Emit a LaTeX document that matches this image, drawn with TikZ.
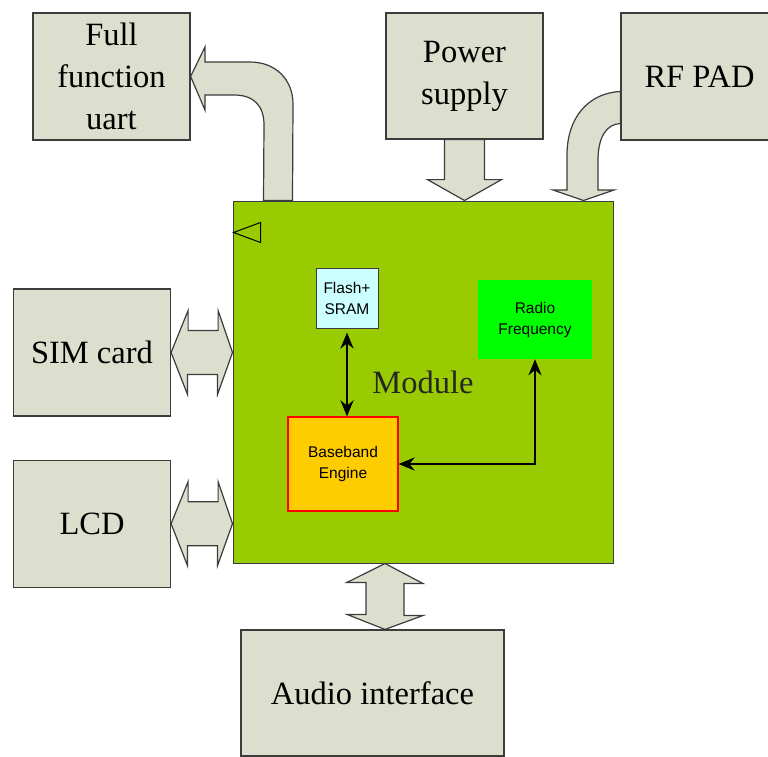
\documentclass[tikz,border=0pt]{standalone}
\usepackage{fontspec}
\setmainfont{Liberation Serif}
\setsansfont{Liberation Sans}
\usetikzlibrary{arrows.meta,positioning,calc}
\definecolor{boxgray}{HTML}{DDDFCE}
\definecolor{edgegray}{HTML}{3C3C3C}
\definecolor{modulegreen}{HTML}{99CC00}
\definecolor{memcyan}{HTML}{CCFFFF}
\definecolor{rfgreen}{HTML}{00FF00}
\definecolor{bbamber}{HTML}{FFCC00}

\begin{document}
\begin{tikzpicture}[
  x=1pt, y=-1pt,
  outbox/.style={rectangle, draw=edgegray, line width=1.2pt, fill=boxgray, minimum width=157pt, minimum height=127pt, align=center, inner sep=0pt, font=\fontsize{32.5}{42}\selectfont},
  modbox/.style={rectangle, draw=edgegray, line width=1pt, fill=modulegreen, minimum width=380pt, minimum height=362pt, inner sep=0pt, font=\fontsize{32.5}{42}\selectfont, text=black!85},
  chip/.style={rectangle, align=center, inner sep=0pt, font=\sffamily\fontsize{15.5}{21}\selectfont},
  fatarrow/.style={draw=edgegray, line width=1.2pt, fill=boxgray, line join=miter},
  busarrow/.style={<->, >={Stealth[length=16pt,width=13pt]}, line width=2.7pt}
]
\useasboundingbox (0,0) rectangle (768,756);
\clip (0,0) rectangle (768,756);
\node[modbox] (module) at (423,382) {Module};
\node[outbox] (uart) at (111.5,76.5) {Full\\function\\uart};
\node[outbox, minimum height=126pt] (power) at (464.5,76) {Power\\supply};
\node[outbox] (rfpad) at (699.5,76.5) {RF PAD};
\node[outbox] (sim) at (92,352.5) {SIM card};
\node[outbox, below=43pt of sim] (lcd) {LCD};
\node[outbox, minimum width=263pt, minimum height=126pt] (audio) at (372.5,693) {Audio interface};
\node[chip, draw=edgegray, line width=1pt, fill=memcyan, minimum width=62pt, minimum height=60pt] (mem) at (347,298) {Flash+\\SRAM};
\node[chip, fill=rfgreen, minimum width=114pt, minimum height=79pt] (radio) at (535,319.5) {Radio\\Frequency};
\node[chip, draw=red, line width=1.2pt, fill=bbamber, minimum width=110pt, minimum height=94pt] (bb) at (343,464) {Baseband\\Engine};
\coordinate (atip) at ($(module.south)+(-38,0)$);

\draw[busarrow, shorten <=4pt] (mem.south) -- (mem.south |- bb.north);
\draw[busarrow] (bb.east) -| (radio.south);
\draw[black, line width=1pt] ($(module.north west)+(1,32)$) -- ++(27,-10) -- ++(0,20) -- cycle;

\draw[fatarrow] ($(module.north west)+(31,0)$) -- (264,125) .. controls (264,106) and (254,95) .. (234,95) -- (205,95) -- (205,110) -- (uart.east) -- (205,47) -- (205,62) -- (250,62) .. controls (276,62) and (293,80) .. (293,104) -- ($(module.north west)+(60,0)$) -- cycle;
\draw[fatarrow] ($(power.south)+(-20,0)$) -- ++(0,40) -- ++(-17,0) -- (power.south |- module.north) -- ($(power.south)+(37,40)$) -- ++(-17,0) -- ++(0,-40) -- cycle;
\draw[fatarrow] ($(rfpad.west)+(0,15)$) .. controls (588,93) and (567,118) .. (567,155) -- (567,190) -- (553,190) -- ($(module.north west)+(351,0)$) -- (614,190) -- (598,190) -- (598,160) .. controls (598,138) and (606,124) .. ($(rfpad.west)+(0,47)$) -- cycle;
\draw[fatarrow] (sim.east) -- ++(17,-42) -- ++(0,20) -- ++(30,0) -- ++(0,-20) -- (module.west |- sim.east) -- ++(-15,42) -- ++(0,-20) -- ++(-30,0) -- ++(0,20) -- cycle;
\draw[fatarrow] (lcd.east) -- ++(17,-42) -- ++(0,20) -- ++(30,0) -- ++(0,-20) -- (module.west |- lcd.east) -- ++(-15,42) -- ++(0,-20) -- ++(-30,0) -- ++(0,20) -- cycle;
\draw[fatarrow] (atip) -- ++(38,20) -- ++(-19,0) -- ++(0,32) -- ++(19,0) -- (atip |- audio.north) -- ++(-38,-15) -- ++(19,0) -- ++(0,-32) -- ++(-19,0) -- cycle;
\end{tikzpicture}
\end{document}
